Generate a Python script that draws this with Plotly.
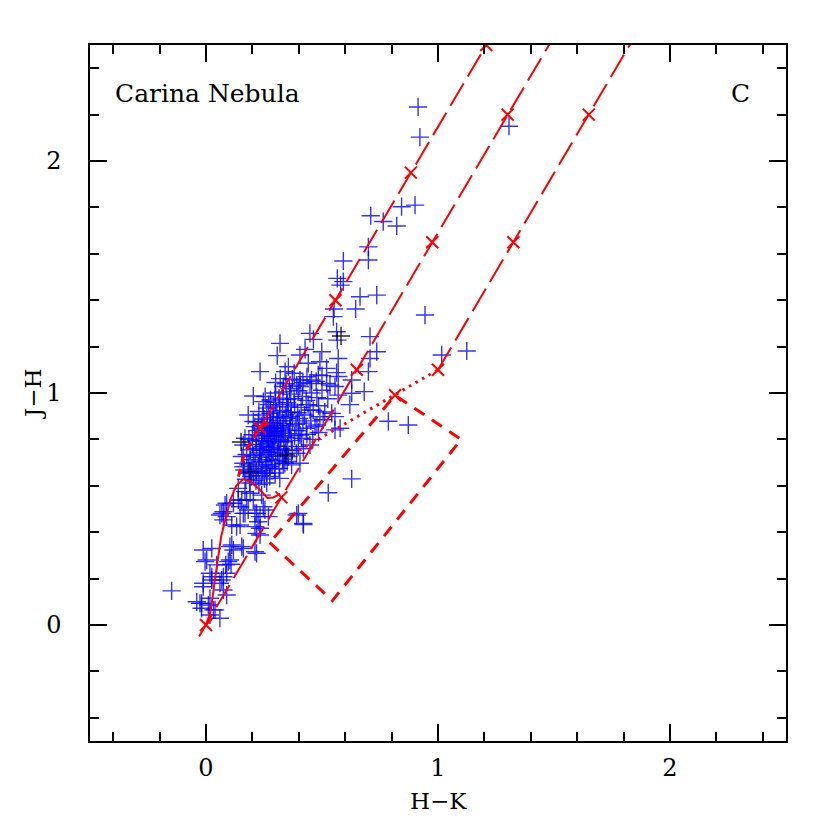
import plotly.graph_objects as go

# ---------------- data (H-K, J-H) ----------------
blue_points = [
    # upper outliers
    (0.914, 2.233), (0.922, 2.103), (1.306, 2.150),
    (0.843, 1.803), (0.901, 1.810), (0.710, 1.764), (0.764, 1.739), (0.822, 1.720),
    (0.700, 1.630), (0.700, 1.573), (0.592, 1.569), (0.566, 1.494), (0.592, 1.480), (0.580, 1.465),
    (0.664, 1.415), (0.736, 1.422), (0.645, 1.362), (0.552, 1.362), (0.549, 1.329), (0.944, 1.336),
    (0.448, 1.257), (0.463, 1.231), (0.563, 1.264), (0.566, 1.228), (0.707, 1.243),
    (0.499, 1.178), (0.736, 1.178), (0.707, 1.149), (0.570, 1.149), (1.016, 1.164), (1.124, 1.181),
    (0.427, 1.188), (0.355, 1.113), (0.441, 1.128), (0.520, 1.106), (0.563, 1.088), (0.405, 1.056),
    (0.455, 1.056), (0.700, 1.092), (0.628, 1.056), (0.682, 1.006), (0.628, 0.999),
    (0.319, 1.214), (0.307, 1.161), (0.405, 1.164), (0.233, 1.092), (0.491, 1.135), (0.484, 1.078),
    (0.341, 1.092), (0.570, 1.071), (0.333, 1.028), (0.391, 1.034), (0.520, 1.041), (0.556, 1.028),
    (0.204, 0.987),
    # lower-right outliers
    (0.786, 0.878), (0.872, 0.862), (0.628, 0.630), (0.527, 0.570), (0.391, 0.474), (0.420, 0.433),
    # cluster edges
    (0.182, 0.905), (0.168, 0.805), (0.161, 0.776), (0.154, 0.726), (0.161, 0.697), (0.247, 0.963),
    (0.204, 0.877), (0.405, 1.028), (0.448, 1.041), (0.534, 1.034), (0.570, 0.991), (0.620, 0.950),
    (0.542, 0.912), (0.556, 0.898), (0.491, 0.898), (0.448, 0.927), (0.470, 0.855), (0.405, 0.819),
    (0.398, 0.769), (0.355, 0.726), (0.333, 0.697), (0.448, 0.776), (0.556, 0.841), (0.578, 0.848),
    (0.369, 0.690), (0.405, 0.697),
    # below the cluster, around dwarf locus
    (0.161, 0.682), (0.182, 0.654), (0.218, 0.661), (0.261, 0.654), (0.276, 0.682), (0.340, 0.697),
    (0.139, 0.589), (0.168, 0.575), (0.190, 0.568), (0.204, 0.539), (0.175, 0.539), (0.240, 0.560),
    (0.147, 0.510), (0.118, 0.525), (0.082, 0.517), (0.075, 0.488), (0.060, 0.474), (0.089, 0.467),
    (0.161, 0.481), (0.211, 0.481), (0.254, 0.496), (0.269, 0.467), (0.225, 0.445), (0.211, 0.424),
    (0.233, 0.417), (0.147, 0.431), (0.111, 0.431), (0.132, 0.424), (0.075, 0.453),
    (0.089, 0.525), (0.068, 0.481), (0.139, 0.539), (0.168, 0.481), (0.218, 0.481), (0.154, 0.539),
    (0.182, 0.496), (0.233, 0.467), (0.247, 0.510), (0.218, 0.395), (0.211, 0.316), (0.161, 0.330),
    (0.103, 0.280), (0.398, 0.481), (0.419, 0.438),
    # low tail near origin
    (-0.148, 0.147), (-0.012, 0.323), (0.025, 0.330), (-0.004, 0.273), (0.111, 0.345), (0.154, 0.338),
    (0.118, 0.323), (0.096, 0.273), (0.085, 0.259), (0.108, 0.262), (0.046, 0.259), (0.017, 0.223),
    (0.089, 0.223), (0.025, 0.194), (0.068, 0.194), (0.060, 0.180), (-0.012, 0.165), (0.075, 0.151),
    (0.089, 0.129), (-0.040, 0.100), (-0.019, 0.093), (0.017, 0.115), (0.010, 0.086), (-0.019, 0.072),
    (0.039, 0.065), (0.060, 0.029), (0.017, 0.043), (0.218, 0.309), (0.233, 0.388), (0.103, 0.338),
    (0.003, 0.280), (0.075, 0.208), (0.025, 0.208), (-0.012, 0.180), (-0.026, 0.093), (0.032, 0.065),
    # dense core
    (0.172, 0.628), (0.195, 0.640), (0.215, 0.622), (0.238, 0.645), (0.252, 0.630), (0.275, 0.640),
    (0.298, 0.655), (0.318, 0.632), (0.188, 0.612), (0.228, 0.605), (0.262, 0.612),
    (0.165, 0.668), (0.182, 0.690), (0.198, 0.672), (0.212, 0.700), (0.226, 0.683), (0.240, 0.705),
    (0.255, 0.675), (0.268, 0.712), (0.285, 0.690), (0.300, 0.708), (0.315, 0.675), (0.330, 0.715),
    (0.350, 0.705), (0.190, 0.712), (0.232, 0.722), (0.262, 0.690), (0.205, 0.655), (0.245, 0.665),
    (0.295, 0.672),
    (0.175, 0.735), (0.190, 0.755), (0.205, 0.730), (0.218, 0.760), (0.230, 0.742), (0.245, 0.768),
    (0.258, 0.735), (0.270, 0.755), (0.283, 0.728), (0.295, 0.772), (0.308, 0.745), (0.322, 0.760),
    (0.338, 0.738), (0.352, 0.770), (0.372, 0.752), (0.390, 0.740), (0.420, 0.760), (0.200, 0.778),
    (0.262, 0.780), (0.280, 0.765), (0.315, 0.728), (0.345, 0.755),
    (0.185, 0.800), (0.200, 0.820), (0.215, 0.795), (0.228, 0.815), (0.240, 0.792), (0.252, 0.830),
    (0.265, 0.805), (0.278, 0.825), (0.290, 0.795), (0.302, 0.818), (0.315, 0.800), (0.328, 0.832),
    (0.342, 0.808), (0.355, 0.825), (0.368, 0.795), (0.382, 0.815), (0.398, 0.838), (0.412, 0.805),
    (0.435, 0.822), (0.460, 0.800), (0.485, 0.830), (0.220, 0.838), (0.270, 0.790), (0.305, 0.838),
    (0.335, 0.790), (0.362, 0.840),
    (0.210, 0.855), (0.225, 0.875), (0.238, 0.860), (0.250, 0.888), (0.262, 0.852), (0.275, 0.872),
    (0.288, 0.895), (0.298, 0.858), (0.310, 0.880), (0.322, 0.850), (0.335, 0.868), (0.348, 0.892),
    (0.360, 0.858), (0.373, 0.880), (0.388, 0.865), (0.402, 0.890), (0.418, 0.870), (0.432, 0.848),
    (0.452, 0.880), (0.478, 0.862), (0.505, 0.885), (0.282, 0.848), (0.318, 0.898), (0.365, 0.898),
    (0.228, 0.920), (0.245, 0.905), (0.262, 0.935), (0.278, 0.912), (0.292, 0.940), (0.305, 0.918),
    (0.318, 0.950), (0.330, 0.925), (0.342, 0.905), (0.355, 0.940), (0.368, 0.918), (0.382, 0.948),
    (0.395, 0.915), (0.410, 0.938), (0.425, 0.905), (0.440, 0.950), (0.462, 0.925), (0.485, 0.945),
    (0.512, 0.918), (0.300, 0.960), (0.350, 0.958), (0.270, 0.950),
    (0.255, 0.985), (0.278, 0.970), (0.298, 1.000), (0.315, 0.978), (0.332, 1.005), (0.348, 0.972),
    (0.365, 0.995), (0.380, 0.975), (0.398, 1.010), (0.415, 0.985), (0.432, 0.968), (0.455, 1.000),
    (0.478, 0.980), (0.500, 1.012), (0.525, 0.975), (0.360, 1.018),
    (0.300, 1.045), (0.320, 1.062), (0.345, 1.040), (0.372, 1.060), (0.418, 1.045), (0.435, 1.070),
    (0.475, 1.050), (0.500, 1.075), (0.380, 1.085),
    (0.245, 0.845), (0.258, 0.818), (0.272, 0.838), (0.285, 0.812), (0.296, 0.835), (0.308, 0.860),
    (0.322, 0.815), (0.290, 0.870), (0.265, 0.870), (0.240, 0.828), (0.312, 0.790), (0.330, 0.845),
    (0.250, 0.770), (0.275, 0.745), (0.235, 0.752), (0.290, 0.755),
]
black_points = [(0.151, 0.789), (0.345, 0.733), (0.582, 1.246), (0.190, 0.660)]

# dwarf locus (solid)
dwarf_hk = [0.0, 0.02, 0.035, 0.05, 0.065, 0.085, 0.105, 0.13, 0.16, 0.19, 0.23, 0.265, 0.29, 0.32]
dwarf_jh = [0.0, 0.06, 0.17, 0.28, 0.38, 0.46, 0.54, 0.60, 0.628, 0.62, 0.585, 0.548, 0.55, 0.565]
# giant branch (thick dashed)
giant_hk = [0.14, 0.165, 0.20, 0.233, 0.265, 0.30]
giant_jh = [0.64, 0.74, 0.80, 0.85, 0.87, 0.87]
# reddening vectors (long dashed): start and end points
redden_lines = [
    ([0.233, 1.25], [0.85, 2.57]),
    ([-0.03, 1.52], [-0.05, 2.57]),
    ([1.00, 1.86], [1.10, 2.557]),
]
# A_V markers along reddening vectors
cross_hk = [0.233, 0.558, 0.883, 1.208, 0.0, 0.325, 0.65, 0.975, 1.30, 1.00, 1.325, 1.65, 0.815]
cross_jh = [0.85, 1.40, 1.95, 2.50, 0.0, 0.55, 1.10, 1.65, 2.20, 1.10, 1.65, 2.20, 0.99]
# CTTS locus (dotted)
ctts_hk = [0.40, 1.00]
ctts_jh = [0.752, 1.10]
# Herbig Ae/Be box (dashed)
box_hk = [0.275, 0.545, 1.10, 0.815, 0.275]
box_jh = [0.355, 0.105, 0.80, 0.99, 0.355]

FONT = "DejaVu Serif"
fig = go.Figure()

fig.add_trace(go.Scatter(
    x=[p[0] for p in blue_points], y=[p[1] for p in blue_points], mode="markers",
    marker=dict(symbol="cross-thin", size=13, color="rgba(0,0,255,0.8)",
                line=dict(color="rgba(0,0,255,0.8)", width=1.4))))
fig.add_trace(go.Scatter(
    x=[p[0] for p in black_points], y=[p[1] for p in black_points], mode="markers",
    marker=dict(symbol="cross-thin", size=13, color="black",
                line=dict(color="rgba(0,0,0,0.85)", width=1.4))))

fig.add_trace(go.Scatter(x=dwarf_hk, y=dwarf_jh, mode="lines",
                         line=dict(color="red", width=2)))
fig.add_trace(go.Scatter(x=giant_hk, y=giant_jh, mode="lines",
                         line=dict(color="red", width=3, dash="8px,6px")))
for hk, jh in redden_lines:
    fig.add_trace(go.Scatter(x=hk, y=jh, mode="lines",
                             line=dict(color="red", width=2, dash="26px,8px")))
fig.add_trace(go.Scatter(x=ctts_hk, y=ctts_jh, mode="lines",
                         line=dict(color="red", width=3, dash="2.5px,5px")))
fig.add_trace(go.Scatter(x=box_hk, y=box_jh, mode="lines",
                         line=dict(color="red", width=3, dash="12px,9px")))
fig.add_trace(go.Scatter(x=cross_hk, y=cross_jh, mode="markers",
                         marker=dict(symbol="x-thin", size=12, color="red",
                                     line=dict(color="red", width=2))))

axis_common = dict(
    showline=True, linecolor="black", linewidth=1.5, mirror="ticks",
    ticks="inside", ticklen=17, tickwidth=1.5, tickcolor="black",
    showgrid=False, zeroline=False, tickmode="linear", tick0=0, dtick=1,
    minor=dict(ticks="inside", ticklen=9, tickwidth=1.5, tickcolor="black", dtick=0.2, tick0=0),
    tickfont=dict(family=FONT, size=24, color="black"),
)
fig.update_xaxes(range=[-0.5, 2.5], ticklabelstandoff=4, **axis_common)
fig.update_yaxes(range=[-0.5, 2.5], ticklabelstandoff=22, **axis_common)

fig.update_layout(
    width=830, height=830, showlegend=False,
    margin=dict(l=82, r=52, t=37, b=97),
    plot_bgcolor="white", paper_bgcolor="white",
    annotations=[
        dict(text="H\u2212K", xref="paper", yref="paper", x=0.5, y=-0.086,
             xanchor="center", yanchor="middle", showarrow=False,
             font=dict(family=FONT, size=23, color="black")),
        dict(text="J\u2212H", xref="paper", yref="paper", x=-0.082, y=0.5,
             xanchor="center", yanchor="middle", showarrow=False, textangle=-90,
             font=dict(family=FONT, size=23, color="black")),
        dict(text="Carina Nebula", xref="paper", yref="paper", x=0.033, y=0.931,
             xanchor="left", yanchor="middle", showarrow=False,
             font=dict(family=FONT, size=25, color="black")),
        dict(text="C", xref="paper", yref="paper", x=0.934, y=0.931,
             xanchor="center", yanchor="middle", showarrow=False,
             font=dict(family=FONT, size=25, color="black")),
    ],
)

fig.write_html("out.html")
